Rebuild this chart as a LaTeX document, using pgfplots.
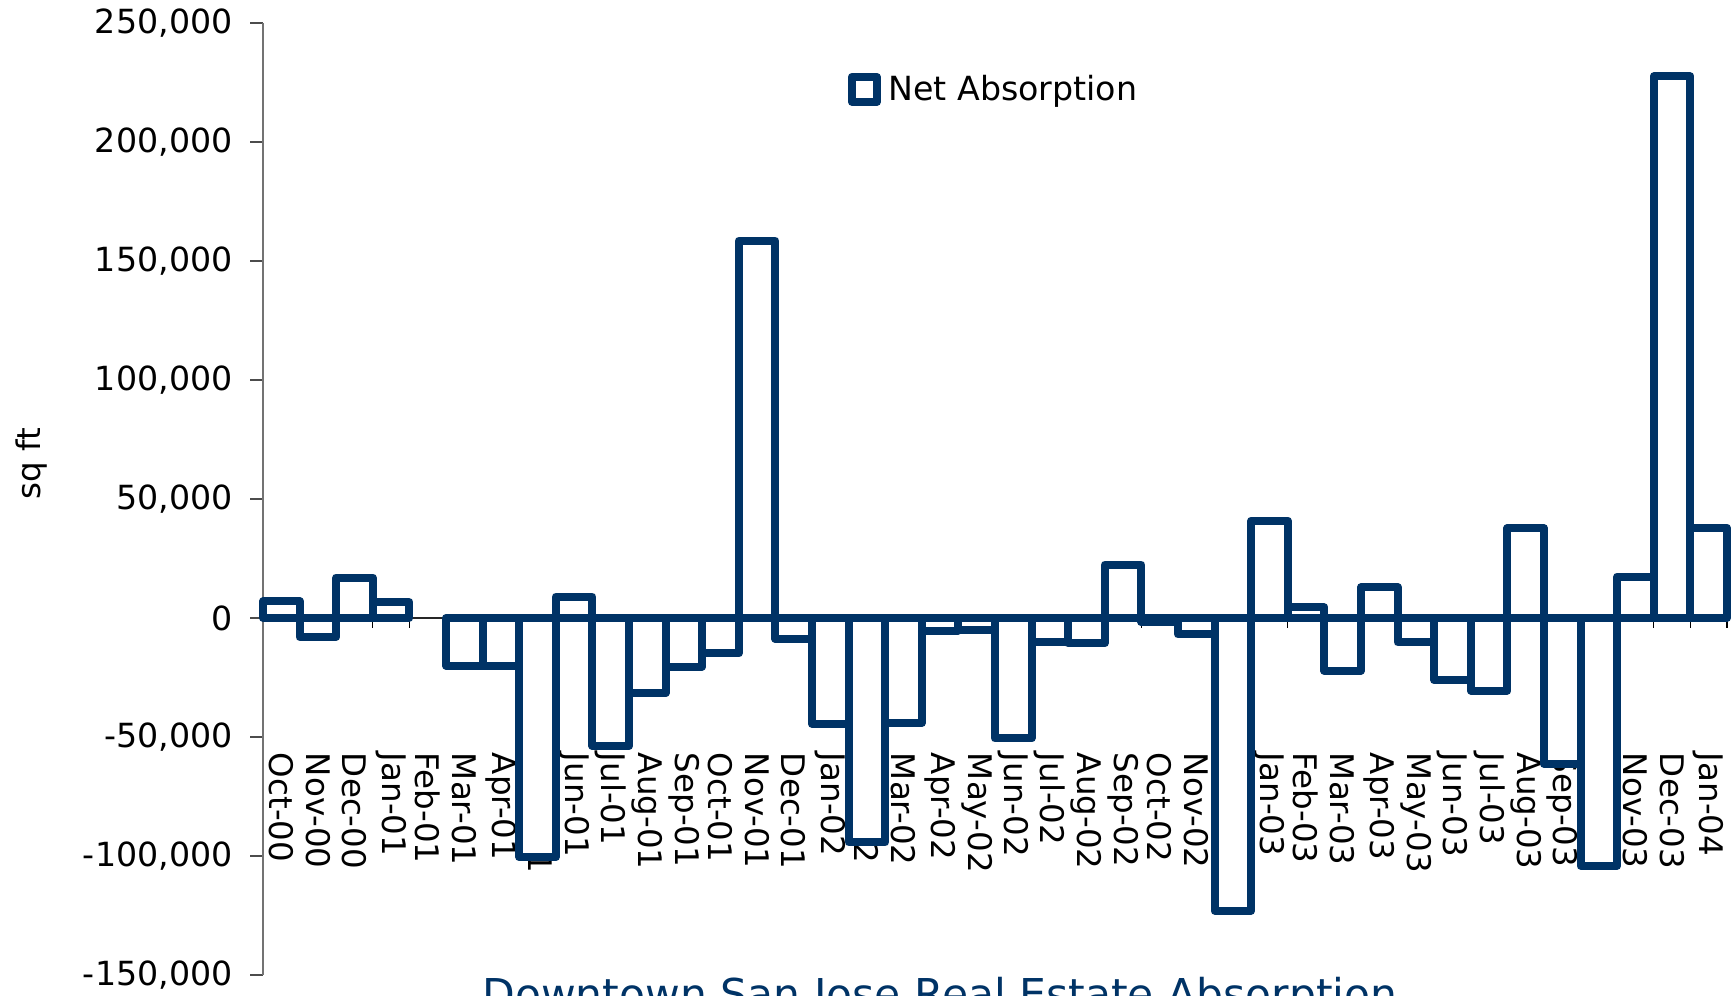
\documentclass[border=0pt]{standalone}
\usepackage{pgfplots}
\pgfplotsset{compat=1.18}
\usepackage{fontspec}
\setmainfont{DejaVu Sans}
\definecolor{navy}{HTML}{003366}
\pgfplotstableread{
x y
0 7000
1 -8000
2 17000
3 6700
5 -20000
6 -20000
7 -100500
8 9000
9 -53800
10 -31600
11 -20400
12 -14900
13 158500
14 -8800
15 -44500
16 -94300
17 -44100
18 -5300
19 -4900
20 -50600
21 -10200
22 -10600
23 22400
24 -1800
25 -6900
26 -123000
27 40900
28 4500
29 -22100
30 12900
31 -10200
32 -26100
33 -30500
34 37700
35 -61300
36 -104100
37 17400
38 227600
39 37900
}\absorption
\begin{document}
\begin{tikzpicture}
\useasboundingbox (-105.2pt,-8.4pt) rectangle (588.8pt,390pt);
\begin{axis}[
  at={(0pt,0pt)}, anchor=south west,
  scale only axis, width=585.6pt, height=380.8pt,
  xmin=-0.5, xmax=39.5, ymin=-150000, ymax=250000,
  clip=false,
  axis x line*=middle, axis y line*=left,
  hide obscured x ticks=false, hide obscured y ticks=false,
  x axis line style={black!85, line width=0.5pt},
  y axis line style={black!55, line width=0.5pt},
  tick align=outside,
  major tick length=5pt, minor tick length=4pt,
  ytick={-150000,-100000,-50000,0,50000,100000,150000,200000,250000},
  yticklabels={{-150,000},{-100,000},{-50,000},{0},{50,000},{100,000},{150,000},{200,000},{250,000}},
  y tick style={black!70, line width=0.5pt},
  xtick={0,...,39},
  major x tick style={draw=none},
  minor xtick={-0.5,0.5,...,39.5},
  minor x tick style={black, line width=0.5pt},
  xticklabels={Oct-00,Nov-00,Dec-00,Jan-01,Feb-01,Mar-01,Apr-01,May-01,Jun-01,Jul-01,Aug-01,Sep-01,Oct-01,Nov-01,Dec-01,Jan-02,Feb-02,Mar-02,Apr-02,May-02,Jun-02,Jul-02,Aug-02,Sep-02,Oct-02,Nov-02,Dec-02,Jan-03,Feb-03,Mar-03,Apr-03,May-03,Jun-03,Jul-03,Aug-03,Sep-03,Oct-03,Nov-03,Dec-03,Jan-04},
  yticklabel style={font=\fontsize{13.3}{16}\selectfont, anchor=east, inner sep=0pt, xshift=-7pt},
  xticklabel style={font=\fontsize{13}{16}\selectfont, yshift=-48.8pt, rotate=-90, anchor=west, inner sep=0pt},
  ylabel={sq ft},
  ylabel style={at={(axis description cs:-0.1578,0.5373)}, anchor=center, rotate=0, font=\fontsize{13}{16}\selectfont},
  title={Downtown San Jose Real Estate Absorption},
  title style={at={(axis description cs:0.4624,-0.0515)}, anchor=base, font=\fontsize{17}{20}\selectfont, text=navy},
  legend style={at={(axis description cs:0.3995,0.9303)}, anchor=west, draw=none, fill=none, inner sep=0pt, outer sep=0pt, font=\fontsize{13.3}{16}\selectfont, nodes={inner sep=0pt}, /tikz/every odd column/.append style={column sep=3pt}},
  legend image code/.code={\draw[draw=navy, fill=white, line width=3.2pt, line join=round] (1.6pt,-5pt) rectangle (11.6pt,5pt);},
]
\addplot[ybar, bar width=1, draw=navy, fill=white, line width=3.2pt, line join=round] table[x=x, y=y] {\absorption};
\addlegendentry{Net Absorption}
\end{axis}
\end{tikzpicture}
\end{document}
